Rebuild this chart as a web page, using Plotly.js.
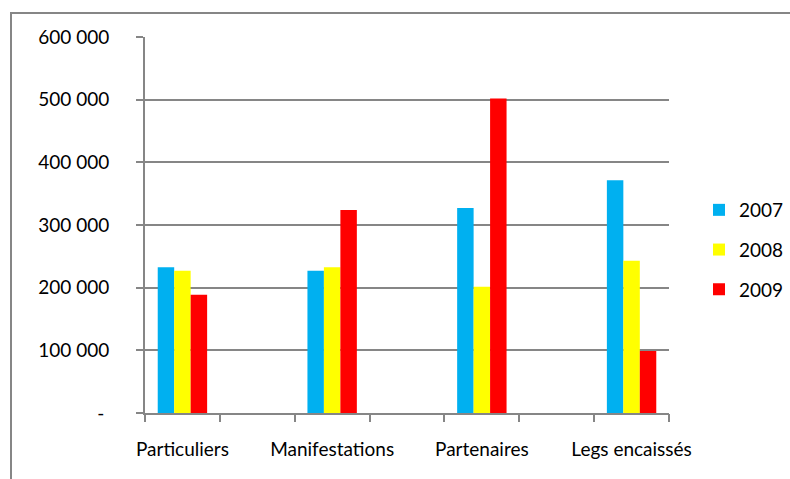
<!DOCTYPE html>
<html>
<head>
<meta charset="utf-8">
<script src="https://cdn.plot.ly/plotly-3.0.1.min.js"></script>
<style>html,body{margin:0;padding:0;background:#fff;}#chart{width:790px;height:479px;}</style>
</head>
<body>
<div id="chart"></div>
<script>
// Data
const categories = ["Particuliers", "Manifestations", "Partenaires", "Legs encaissés"];
const seriesNames = ["2007", "2008", "2009"];
const values2007 = [232500, 227000, 327000, 371500];
const values2008 = [227000, 232500, 201500, 243000];
const values2009 = [188500, 324000, 502000, 99000];
const yTickValues = [0, 100000, 200000, 300000, 400000, 500000, 600000];
const yTickLabels = ["-\u00a0", "100 000", "200 000", "300 000", "400 000", "500 000", "600 000"];

const colors = ["#00B0F0", "#FFFF00", "#FF0000"];
const gray = "#868686";
const FONT = "Lato, 'Open Sans', sans-serif";

// Categories sit in every other slot (blank slots between them)
const slotCount = categories.length * 2 - 1;
const xPos = categories.map((c, i) => i * 2);
const boundaries = [];
for (let k = 0; k <= slotCount; k++) boundaries.push(k - 0.5);

const groupWidth = 0.66;
const allSeries = [values2007, values2008, values2009];
const barW = groupWidth / allSeries.length;
const traces = allSeries.map((vals, i) => ({
  type: "bar",
  name: seriesNames[i],
  x: xPos,
  y: vals,
  width: barW,
  offset: -groupWidth / 2 + i * barW,
  marker: {color: colors[i], line: {width: 0}},
  legendgroup: "g" + i,
  hoverinfo: "skip"
}));
// invisible helper trace for the boundary tick axis
traces.push({type: "scatter", x: [], y: [], xaxis: "x2", yaxis: "y", showlegend: false, hoverinfo: "skip"});

const W = 790, H = 479;
const m = {l: 145, r: 121, t: 37, b: 66, autoexpand: false};
const pw = W - m.l - m.r, ph = H - m.t - m.b;
const bx = (11 - m.l) / pw, byTop = (H - m.b - 13) / ph;

const layout = {
  width: W, height: H,
  margin: m,
  paper_bgcolor: "#ffffff",
  plot_bgcolor: "#ffffff",
  font: {family: FONT, size: 19, color: "#000000"},
  barmode: "overlay",
  showlegend: true,
  legend: {
    x: (699 - m.l) / pw, xanchor: "left",
    y: (H - m.b - 250) / ph, yanchor: "middle",
    font: {family: FONT, size: 19, color: "#000000"},
    tracegroupgap: 12,
    bgcolor: "rgba(0,0,0,0)"
  },
  xaxis: {
    range: [-0.5, slotCount - 0.5],
    tickvals: xPos,
    ticktext: categories,
    ticks: "",
    showgrid: false,
    zeroline: false,
    showline: true,
    linecolor: gray,
    linewidth: 2,
    ticklabelstandoff: 18,
    fixedrange: true
  },
  xaxis2: {
    overlaying: "x",
    anchor: "y",
    side: "bottom",
    range: [-0.5, slotCount - 0.5],
    tickvals: boundaries,
    showticklabels: false,
    ticks: "outside",
    ticklen: 8,
    tickwidth: 2,
    tickcolor: gray,
    showgrid: false,
    zeroline: false,
    showline: false
  },
  yaxis: {
    range: [0, 600000],
    tickvals: yTickValues,
    ticktext: yTickLabels,
    ticks: "outside",
    ticklen: 7,
    tickwidth: 2,
    tickcolor: gray,
    showgrid: true,
    gridcolor: gray,
    gridwidth: 2,
    zeroline: false,
    showline: true,
    linecolor: gray,
    linewidth: 2,
    ticklabelstandoff: 23,
    fixedrange: true
  },
  shapes: [{
    type: "path", xref: "paper", yref: "paper",
    path: `M ${bx},-1 L ${bx},${byTop} L 2,${byTop}`,
    line: {color: gray, width: 2}
  }]
};

Plotly.newPlot("chart", traces, layout, {displayModeBar: false, staticPlot: true});
</script>
</body>
</html>
